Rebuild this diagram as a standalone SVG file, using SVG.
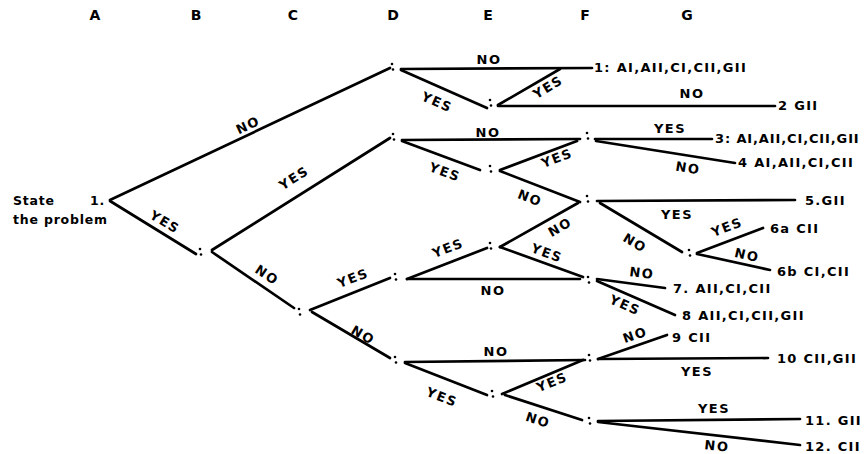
<svg xmlns="http://www.w3.org/2000/svg" width="866" height="454" viewBox="0 0 866 454">
<style>
  .ln{stroke:#000;stroke-width:2.7;stroke-linecap:round;fill:none}
  text{font-family:"DejaVu Sans","Liberation Sans",sans-serif;font-weight:bold;fill:#000}
  .col{font-size:14px;text-anchor:middle}
  .lb{font-size:13px;letter-spacing:1.5px;text-anchor:middle}
  .leaf{font-size:13px;letter-spacing:1.3px}
  .root{font-size:12.5px;letter-spacing:0.8px}
</style>
<defs>
  <!-- small decision-point mark -->
  <g id="mk"><circle cx="0" cy="-3" r="1.3"/><circle cx="1" cy="2.5" r="1.3"/></g>
</defs>
<rect width="866" height="454" fill="#fff"/>

<!-- column headings -->
<g id="columns">
  <text class="col" x="95" y="20">A</text>
  <text class="col" x="196" y="20">B</text>
  <text class="col" x="293" y="20">C</text>
  <text class="col" x="393" y="20">D</text>
  <text class="col" x="488" y="20">E</text>
  <text class="col" x="585" y="20">F</text>
  <text class="col" x="687" y="20">G</text>
</g>

<!-- connectors with their answer labels -->
<g id="connectors">
  <line class="ln" x1="110" y1="200" x2="390" y2="68"/>
  <line class="ln" x1="110" y1="201" x2="196" y2="254"/>
  <line class="ln" x1="212" y1="250" x2="390" y2="138"/>
  <line class="ln" x1="212" y1="252" x2="294" y2="308"/>
  <line class="ln" x1="310" y1="310" x2="390" y2="278"/>
  <line class="ln" x1="312" y1="312" x2="390" y2="358"/>
  <line class="ln" x1="401" y1="69" x2="592" y2="68"/>
  <line class="ln" x1="401" y1="70" x2="487" y2="108"/>
  <line class="ln" x1="498" y1="105" x2="560" y2="69"/>
  <line class="ln" x1="498" y1="106" x2="775" y2="106"/>
  <line class="ln" x1="402" y1="140" x2="580" y2="139"/>
  <line class="ln" x1="402" y1="141" x2="480" y2="170"/>
  <line class="ln" x1="500" y1="170" x2="577" y2="141"/>
  <line class="ln" x1="500" y1="171" x2="580" y2="202"/>
  <line class="ln" x1="595" y1="139" x2="712" y2="139"/>
  <line class="ln" x1="596" y1="141" x2="735" y2="163"/>
  <line class="ln" x1="578" y1="203" x2="500" y2="247"/>
  <line class="ln" x1="597" y1="201" x2="795" y2="200"/>
  <line class="ln" x1="600" y1="203" x2="682" y2="252"/>
  <line class="ln" x1="697" y1="253" x2="763" y2="228"/>
  <line class="ln" x1="697" y1="254" x2="770" y2="270"/>
  <line class="ln" x1="500" y1="247" x2="583" y2="277"/>
  <line class="ln" x1="407" y1="279" x2="487" y2="248"/>
  <line class="ln" x1="407" y1="279" x2="580" y2="279"/>
  <line class="ln" x1="597" y1="279" x2="665" y2="288"/>
  <line class="ln" x1="597" y1="281" x2="675" y2="315"/>
  <line class="ln" x1="405" y1="362" x2="585" y2="360"/>
  <line class="ln" x1="405" y1="363" x2="487" y2="395"/>
  <line class="ln" x1="502" y1="394" x2="583" y2="360"/>
  <line class="ln" x1="505" y1="395" x2="582" y2="420"/>
  <line class="ln" x1="598" y1="359" x2="667" y2="335"/>
  <line class="ln" x1="598" y1="359" x2="768" y2="358"/>
  <line class="ln" x1="598" y1="421" x2="800" y2="419"/>
  <line class="ln" x1="598" y1="422" x2="800" y2="445"/>

  <text class="lb" dy="0.35em" transform="translate(248,125) rotate(-25)">NO</text>
  <text class="lb" dy="0.35em" transform="translate(165,222) rotate(31)">YES</text>
  <text class="lb" dy="0.35em" transform="translate(294,178) rotate(-32)">YES</text>
  <text class="lb" dy="0.35em" transform="translate(267,275) rotate(34)">NO</text>
  <text class="lb" dy="0.35em" transform="translate(489,59)">NO</text>
  <text class="lb" dy="0.35em" transform="translate(437,102) rotate(24)">YES</text>
  <text class="lb" dy="0.35em" transform="translate(548,87) rotate(-31)">YES</text>
  <text class="lb" dy="0.35em" transform="translate(692,93)">NO</text>
  <text class="lb" dy="0.35em" transform="translate(488,132)">NO</text>
  <text class="lb" dy="0.35em" transform="translate(445,172) rotate(20)">YES</text>
  <text class="lb" dy="0.35em" transform="translate(557,158) rotate(-21)">YES</text>
  <text class="lb" dy="0.35em" transform="translate(530,198) rotate(21)">NO</text>
  <text class="lb" dy="0.35em" transform="translate(670,128)">YES</text>
  <text class="lb" dy="0.35em" transform="translate(688,168) rotate(9)">NO</text>
  <text class="lb" dy="0.35em" transform="translate(560,227) rotate(-30)">NO</text>
  <text class="lb" dy="0.35em" transform="translate(677,214)">YES</text>
  <text class="lb" dy="0.35em" transform="translate(635,243) rotate(31)">NO</text>
  <text class="lb" dy="0.35em" transform="translate(727,227) rotate(-21)">YES</text>
  <text class="lb" dy="0.35em" transform="translate(747,255) rotate(13)">NO</text>
  <text class="lb" dy="0.35em" transform="translate(547,253) rotate(20)">YES</text>
  <text class="lb" dy="0.35em" transform="translate(448,248) rotate(-21)">YES</text>
  <text class="lb" dy="0.35em" transform="translate(493,290)">NO</text>
  <text class="lb" dy="0.35em" transform="translate(353,278) rotate(-21)">YES</text>
  <text class="lb" dy="0.35em" transform="translate(363,335) rotate(30)">NO</text>
  <text class="lb" dy="0.35em" transform="translate(642,273) rotate(7)">NO</text>
  <text class="lb" dy="0.35em" transform="translate(625,305) rotate(24)">YES</text>
  <text class="lb" dy="0.35em" transform="translate(496,351)">NO</text>
  <text class="lb" dy="0.35em" transform="translate(442,397) rotate(21)">YES</text>
  <text class="lb" dy="0.35em" transform="translate(552,382) rotate(-22)">YES</text>
  <text class="lb" dy="0.35em" transform="translate(538,420) rotate(18)">NO</text>
  <text class="lb" dy="0.35em" transform="translate(635,335) rotate(-19)">NO</text>
  <text class="lb" dy="0.35em" transform="translate(697,371)">YES</text>
  <text class="lb" dy="0.35em" transform="translate(714,408)">YES</text>
  <text class="lb" dy="0.35em" transform="translate(717,446) rotate(6)">NO</text>
</g>

<!-- start node -->
<g id="node-root">
  <text class="root" x="13" y="205">State</text>
  <text class="root" x="13" y="224">the problem</text>
  <text class="root" x="90" y="205">1.</text>
</g>

<!-- decision points -->
<g id="node-B"><use href="#mk" x="200" y="252"/></g>
<g id="node-C"><use href="#mk" x="299" y="312"/></g>
<g id="node-D1"><use href="#mk" x="392" y="67"/></g>
<g id="node-D2"><use href="#mk" x="393" y="137"/></g>
<g id="node-D3"><use href="#mk" x="395" y="277"/></g>
<g id="node-D4"><use href="#mk" x="395" y="360"/></g>
<g id="node-E1"><use href="#mk" x="490" y="103"/></g>
<g id="node-E2"><use href="#mk" x="490" y="169"/></g>
<g id="node-E3"><use href="#mk" x="490" y="246"/></g>
<g id="node-E4"><use href="#mk" x="492" y="394"/></g>
<g id="node-F1"><use href="#mk" x="587" y="136"/></g>
<g id="node-F2"><use href="#mk" x="587" y="199"/></g>
<g id="node-F3"><use href="#mk" x="588" y="280"/></g>
<g id="node-F4"><use href="#mk" x="589" y="358"/></g>
<g id="node-F5"><use href="#mk" x="589" y="421"/></g>
<g id="node-G"><use href="#mk" x="689" y="253"/></g>

<!-- outcomes -->
<g id="leaf-1"><text class="leaf" x="594" y="72">1: AI,AII,CI,CII,GII</text></g>
<g id="leaf-2"><text class="leaf" x="778" y="110">2 GII</text></g>
<g id="leaf-3"><text class="leaf" x="715" y="143" textLength="145" lengthAdjust="spacing">3: AI,AII,CI,CII,GII</text></g>
<g id="leaf-4"><text class="leaf" x="738" y="167">4  AI,AII,CI,CII</text></g>
<g id="leaf-5"><text class="leaf" x="805" y="205">5.GII</text></g>
<g id="leaf-6a"><text class="leaf" x="770" y="233">6a  CII</text></g>
<g id="leaf-6b"><text class="leaf" x="777" y="276">6b  CI,CII</text></g>
<g id="leaf-7"><text class="leaf" x="673" y="293">7. AII,CI,CII</text></g>
<g id="leaf-8"><text class="leaf" x="682" y="320">8  AII,CI,CII,GII</text></g>
<g id="leaf-9"><text class="leaf" x="672" y="342">9  CII</text></g>
<g id="leaf-10"><text class="leaf" x="777" y="363">10  CII,GII</text></g>
<g id="leaf-11"><text class="leaf" x="805" y="425">11. GII</text></g>
<g id="leaf-12"><text class="leaf" x="805" y="451">12. CII</text></g>
</svg>
